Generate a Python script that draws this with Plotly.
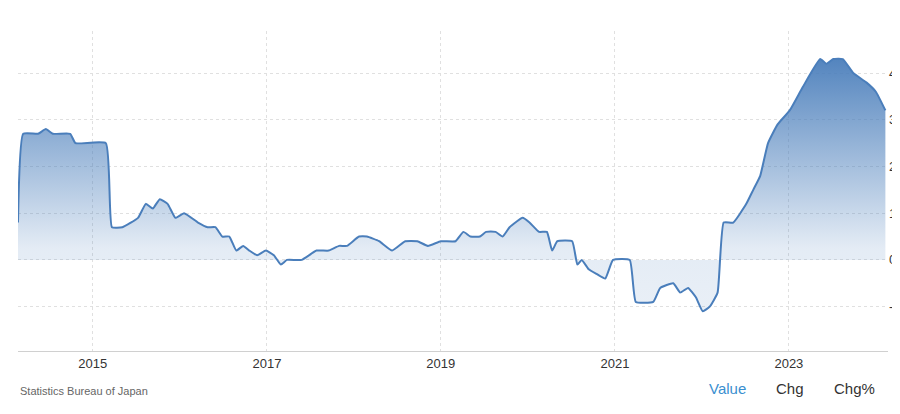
import plotly.graph_objects as go
import pandas as pd

years = [2014.14, 2014.20, 2014.37, 2014.46, 2014.54, 2014.74, 2014.80, 2015.15, 2015.22, 2015.34,
         2015.52, 2015.61, 2015.69, 2015.77, 2015.86, 2015.95, 2016.05, 2016.21, 2016.32, 2016.41,
         2016.49, 2016.57, 2016.65, 2016.73, 2016.80, 2016.89, 2016.99, 2017.08, 2017.16, 2017.23,
         2017.40, 2017.57, 2017.71, 2017.83, 2017.92, 2018.06, 2018.15, 2018.29, 2018.44, 2018.59,
         2018.73, 2018.85, 2019.00, 2019.17, 2019.26, 2019.34, 2019.45, 2019.52, 2019.63, 2019.71,
         2019.79, 2019.94, 2020.02, 2020.13, 2020.22, 2020.28, 2020.34, 2020.51, 2020.57, 2020.62,
         2020.70, 2020.79, 2020.89, 2020.98, 2021.17, 2021.24, 2021.44, 2021.52, 2021.67, 2021.75,
         2021.84, 2021.93, 2022.01, 2022.09, 2022.18, 2022.25, 2022.36, 2022.51, 2022.59, 2022.67,
         2022.76, 2022.87, 2023.01, 2023.16, 2023.36, 2023.43, 2023.51, 2023.62, 2023.74, 2023.89,
         2024.00, 2024.11]
values = [0.8, 2.7, 2.7, 2.8, 2.7, 2.7, 2.5, 2.5, 0.7, 0.7,
          0.9, 1.2, 1.1, 1.3, 1.2, 0.9, 1.0, 0.8, 0.7, 0.7,
          0.5, 0.5, 0.2, 0.3, 0.2, 0.1, 0.2, 0.1, -0.1, 0.0,
          0.0, 0.2, 0.2, 0.3, 0.3, 0.5, 0.5, 0.4, 0.2, 0.4,
          0.4, 0.3, 0.4, 0.4, 0.6, 0.5, 0.5, 0.6, 0.6, 0.5,
          0.7, 0.9, 0.8, 0.6, 0.6, 0.2, 0.4, 0.4, -0.1, 0.0,
          -0.2, -0.3, -0.4, 0.0, 0.0, -0.9, -0.9, -0.6, -0.5, -0.7,
          -0.6, -0.8, -1.1, -1.0, -0.7, 0.8, 0.8, 1.2, 1.5, 1.8,
          2.5, 2.9, 3.2, 3.7, 4.3, 4.2, 4.3, 4.3, 4.0, 3.8,
          3.6, 3.2]

def to_date(y):
    yr = int(y)
    return pd.Timestamp(yr, 1, 1) + pd.Timedelta(days=(y - yr) * 365.25)

dates = [to_date(y) for y in years]

fig = go.Figure()
fig.add_trace(go.Scatter(
    x=dates, y=values, mode="lines",
    line=dict(color="#4a7ebb", width=2, shape="spline", smoothing=0.4),
    fill="tozeroy",
    fillgradient=dict(type="vertical",
                      colorscale=[[0, "rgba(74,126,187,0.12)"], [0.25, "rgba(74,126,187,0.15)"],
                                  [1, "rgba(74,126,187,0.95)"]]),
    hoverinfo="x+y", showlegend=False))

fig.update_xaxes(
    range=[to_date(2014.14), to_date(2024.14)],
    tickvals=[to_date(y + 0.0) for y in [2015, 2017, 2019, 2021, 2023]],
    ticktext=["2015", "2017", "2019", "2021", "2023"],
    showgrid=True, gridcolor="#e0e0e0", griddash="dot",
    showline=True, linecolor="#d0d0d0", ticks="", zeroline=False,
    tickfont=dict(size=13, color="#333"))
fig.update_yaxes(
    side="right", range=[-1.95, 4.9], tickvals=[-1, 0, 1, 2, 3, 4],
    ticktext=["-1", "0", "1", "2", "3", "4"],
    showgrid=True, gridcolor="#e0e0e0", griddash="dot", zeroline=False,
    tickfont=dict(size=13, color="#333"))

fig.add_annotation(text="%", xref="paper", yref="paper", x=1.022, y=1.01, xanchor="right",
                   yanchor="bottom", showarrow=False, font=dict(size=12, color="#888"))
fig.add_annotation(text="Statistics Bureau of Japan", xref="paper", yref="paper", x=0, y=-0.15,
                   xanchor="left", showarrow=False, font=dict(size=11, color="#666"))
fig.add_annotation(text="Value", xref="paper", yref="paper", x=0.815, y=-0.15, xanchor="center",
                   showarrow=False, font=dict(size=15, color="#3a8fd0"))
fig.add_annotation(text="Chg", xref="paper", yref="paper", x=0.887, y=-0.15, xanchor="center",
                   showarrow=False, font=dict(size=15, color="#333"))
fig.add_annotation(text="Chg%", xref="paper", yref="paper", x=0.962, y=-0.15, xanchor="center",
                   showarrow=False, font=dict(size=15, color="#333"))

fig.update_layout(width=900, height=414, paper_bgcolor="white", plot_bgcolor="white",
                  font=dict(family="Arial, Liberation Sans"),
                  margin=dict(l=10, r=20, t=23, b=71, autoexpand=False))
fig.write_html("out.html")
